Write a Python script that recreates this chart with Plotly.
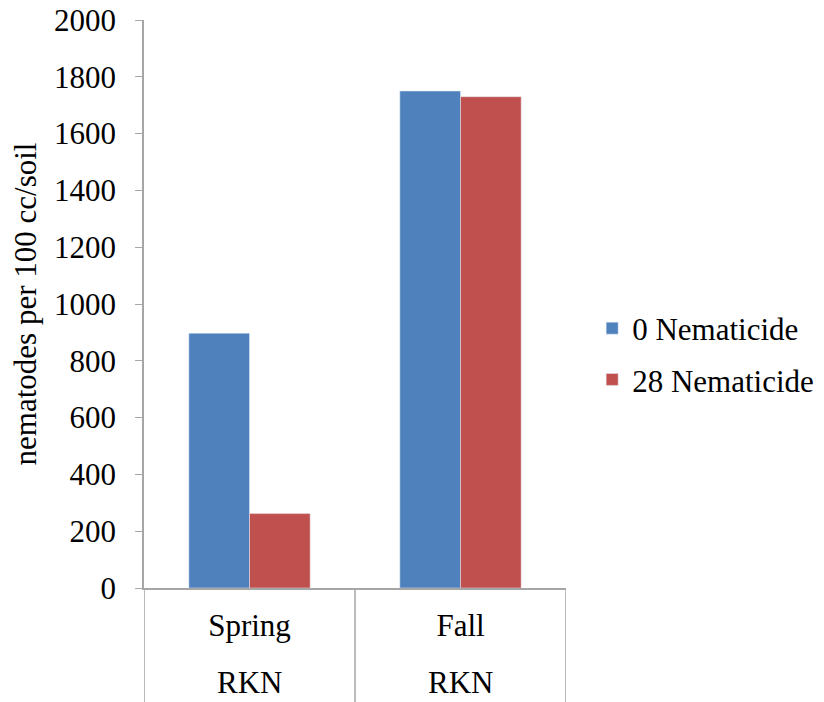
import plotly.graph_objects as go

# Data
seasons = ['Spring', 'Fall']
groups = ['RKN', 'RKN']
nematicide_0 = [897, 1750]
nematicide_28 = [262, 1730]
series_names = ['0 Nematicide', '28 Nematicide']
y_ticks = [0, 200, 400, 600, 800, 1000, 1200, 1400, 1600, 1800, 2000]

font_family = 'Liberation Serif, Times New Roman, serif'
font_size = 31
axis_grey = '#a6a6a6'

fig = go.Figure()

fig.add_trace(go.Bar(
    name=series_names[0],
    x=seasons,
    y=nematicide_0,
    marker_color='#4f81bd',
    legendgroup='a'
))

fig.add_trace(go.Bar(
    name=series_names[1],
    x=seasons,
    y=nematicide_28,
    marker_color='#c0504d',
    legendgroup='b'
))

# second row of category labels
for s, g in zip(seasons, groups):
    fig.add_annotation(
        x=s, y=-0.167, xref='x', yref='paper',
        text=g, showarrow=False,
        font=dict(size=font_size, color='black', family=font_family),
        yanchor='middle'
    )

# category separators below the axis
for xpos in [-0.5, 0.5, 1.5]:
    fig.add_shape(
        type='line', xref='x', yref='paper',
        x0=xpos, x1=xpos, y0=0, y1=-0.22,
        line=dict(color=axis_grey, width=1.5)
    )

# page body has an 8px margin, so the margins are shifted to compensate
fig.update_layout(
    width=824,
    height=702,
    margin=dict(l=136, r=266, t=12, b=122),
    plot_bgcolor='white',
    paper_bgcolor='white',
    font=dict(family=font_family, size=font_size, color='black'),
    barmode='group',
    bargap=0.425,
    bargroupgap=0,
    showlegend=True,
    legend=dict(
        x=1.062, y=0.412, xanchor='left', yanchor='middle',
        font=dict(size=font_size, family=font_family, color='black'),
        traceorder='grouped',
        tracegroupgap=8,
        itemwidth=30
    ),
    xaxis=dict(
        range=[-0.5, 1.5],
        showline=True,
        linecolor=axis_grey,
        linewidth=1.5,
        ticks='',
        ticklabelstandoff=9,
        tickfont=dict(size=font_size, family=font_family, color='black'),
        showgrid=False,
        automargin=False,
        fixedrange=True
    ),
    yaxis=dict(
        title=dict(text='nematodes per 100 cc/soil', standoff=10,
                   font=dict(size=font_size, family=font_family, color='black')),
        range=[0, 2000],
        tickvals=y_ticks,
        showline=True,
        linecolor=axis_grey,
        linewidth=1.5,
        ticks='outside',
        ticklen=7,
        tickcolor=axis_grey,
        ticklabelstandoff=13,
        ticklabeloverflow='allow',
        tickfont=dict(size=font_size, family=font_family, color='black'),
        showgrid=False,
        zeroline=False,
        automargin=False
    )
)

fig.write_html("out.html")
